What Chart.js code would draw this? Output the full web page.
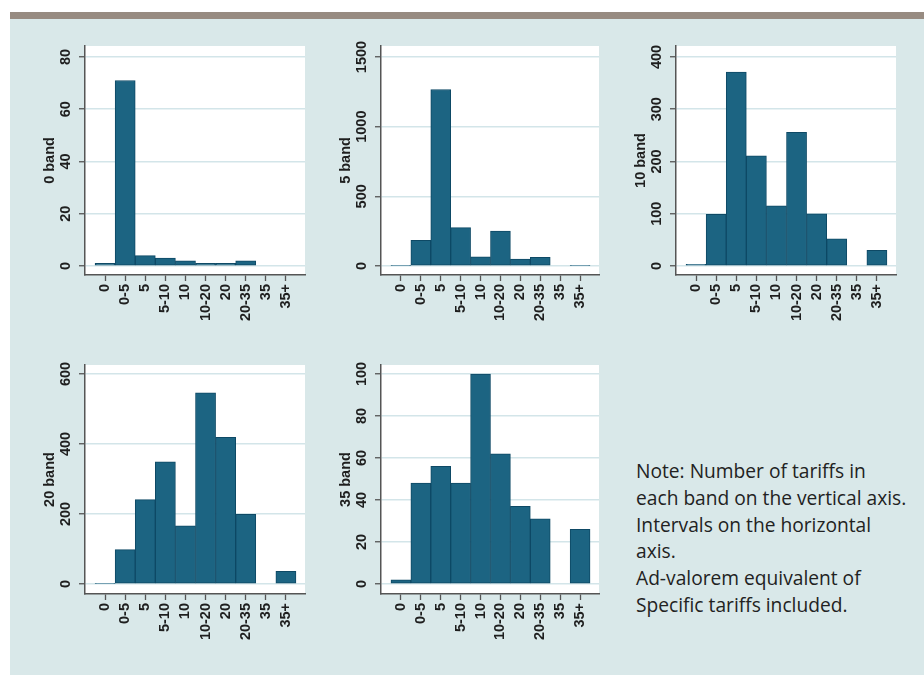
<!DOCTYPE html>
<html>
<head>
<meta charset="utf-8">
<script src="https://cdn.jsdelivr.net/npm/chart.js@4.4.1/dist/chart.umd.min.js"></script>
<style>
  body { margin: 0; width: 924px; height: 675px; background: #fff; position: relative; overflow: hidden; }
  #bg { position: absolute; left: 10px; top: 19px; right: 0; bottom: 0; background: #d9e8e9; }
  #topbar { position: absolute; left: 10px; top: 12px; right: 0; height: 7px; background: #978b81; }
  canvas { position: absolute; }
  #note { position: absolute; left: 636px; top: 458px; font-family: 'Open Sans', sans-serif; font-size: 19.2px; line-height: 26.8px; color: #222; }
</style>
</head>
<body>
<div id="bg"></div>
<div id="topbar"></div>
<canvas id="c0"></canvas>
<canvas id="c5"></canvas>
<canvas id="c10"></canvas>
<canvas id="c20"></canvas>
<canvas id="c35"></canvas>
<div id="note">Note: Number of tariffs in<br>each band on the vertical axis.<br>Intervals on the horizontal<br>axis.<br>Ad-valorem equivalent of<br>Specific tariffs included.</div>

<script>
// intervalos del eje horizontal
const bandLabels = ['0', '0-5', '5', '5-10', '10', '10-20', '20', '20-35', '35', '35+'];

// numero de aranceles por intervalo, una serie por banda
const band0 = [1, 71, 4, 3, 2, 1, 1, 2, 0, 0];
const band5 = [5, 185, 1267, 275, 65, 251, 50, 63, 0, 5];
const band10 = [3, 99, 371, 211, 115, 256, 100, 52, 0, 30];
const band20 = [2, 98, 241, 349, 166, 546, 419, 199, 0, 36];
const band35 = [2, 48, 56, 48, 100, 62, 37, 31, 0, 26];

// marcas del eje vertical
const ticks0 = [0, 20, 40, 60, 80];
const ticks5 = [0, 500, 1000, 1500];
const ticks10 = [0, 100, 200, 300, 400];
const ticks20 = [0, 200, 400, 600];
const ticks35 = [0, 20, 40, 60, 80, 100];

const FONT = "'Liberation Sans', Arial, sans-serif";
const TEXT = '#1e1e1e';
const AXIS = '#555';

// fondo blanco del area de trazado y etiquetas verticales del eje Y (estilo Stata)
const plotDeco = {
    id: 'plotDeco',
    beforeDraw(chart) {
        const { ctx, chartArea: a } = chart;
        ctx.save();
        ctx.fillStyle = '#fff';
        ctx.fillRect(a.left, a.top, a.right - a.left, a.bottom - a.top);
        ctx.restore();
    },
    afterDraw(chart) {
        const { ctx } = chart;
        const y = chart.scales.y;
        ctx.save();
        ctx.font = 'bold 14.5px ' + FONT;
        ctx.fillStyle = TEXT;
        ctx.textAlign = 'center';
        ctx.textBaseline = 'middle';
        y.ticks.forEach(t => {
            ctx.save();
            ctx.translate(y.right - 19, y.getPixelForValue(t.value));
            ctx.rotate(-Math.PI / 2);
            ctx.fillText(String(t.value), 0, 0);
            ctx.restore();
        });
        ctx.restore();
    }
};

function crearHistograma(id, title, values, yTicks, left, top, plotW, plotH) {
    const canvas = document.getElementById(id);
    const padTop = 10, padRight = 5, padBottom = 5, yAxisW = 75, xAxisH = 55;
    canvas.width = yAxisW + plotW + padRight;
    canvas.height = padTop + plotH + xAxisH + padBottom;
    canvas.style.left = (left - yAxisW) + 'px';
    canvas.style.top = (top - padTop) + 'px';

    const topTick = yTicks[yTicks.length - 1];
    const lowFrac = top < 300 ? 9 / 209 : 10 / 210;
    const highFrac = top < 300 ? 11 / 209 : 9 / 210;

    return new Chart(canvas.getContext('2d'), {
        type: 'bar',
        data: {
            datasets: [{
                data: values.map((v, i) => ({ x: i, y: v })),
                backgroundColor: '#1c6482',
                borderColor: '#0e4965',
                borderWidth: 1,
                borderSkipped: false,
                barPercentage: 1,
                categoryPercentage: 1
            }]
        },
        options: {
            responsive: false,
            animation: false,
            events: [],
            layout: { padding: { left: 0, right: padRight, top: padTop, bottom: padBottom } },
            plugins: { legend: { display: false }, tooltip: { enabled: false } },
            scales: {
                x: {
                    type: 'linear',
                    offset: false,
                    min: -1,
                    max: 9.95,
                    afterBuildTicks: s => { s.ticks = bandLabels.map((_, i) => ({ value: i })); },
                    afterFit: s => { s.height = xAxisH; s.paddingLeft = 0; s.paddingRight = 0; },
                    grid: { offset: false, drawOnChartArea: false, tickLength: 6, tickColor: AXIS, tickWidth: 1.3 },
                    border: { color: AXIS, width: 1.5 },
                    ticks: {
                        autoSkip: false,
                        minRotation: 90,
                        maxRotation: 90,
                        padding: 3,
                        color: TEXT,
                        font: { family: FONT, size: 14.5, weight: 'bold' },
                        callback: v => bandLabels[v]
                    }
                },
                y: {
                    min: -lowFrac * topTick,
                    max: topTick * (1 + highFrac),
                    afterBuildTicks: s => { s.ticks = yTicks.map(v => ({ value: v })); },
                    afterFit: s => { s.width = yAxisW; s.paddingTop = 0; s.paddingBottom = 0; },
                    grid: { color: '#d3e5e9', lineWidth: 1.5, tickLength: 6, tickColor: AXIS, tickWidth: 1.3 },
                    border: { color: AXIS, width: 1.5 },
                    ticks: { display: false },
                    title: {
                        display: true,
                        text: title,
                        color: TEXT,
                        font: { family: FONT, size: 14.5, weight: 'bold' },
                        padding: { top: 31.3, bottom: 0 }
                    }
                }
            }
        },
        plugins: [plotDeco]
    });
}

crearHistograma('c0', '0 band', band0, ticks0, 85, 46, 220, 229);
crearHistograma('c5', '5 band', band5, ticks5, 381, 46, 218, 229);
crearHistograma('c10', '10 band', band10, ticks10, 676, 46, 220, 229);
crearHistograma('c20', '20 band', band20, ticks20, 85, 365, 220, 229);
crearHistograma('c35', '35 band', band35, ticks35, 381, 365, 218, 229);
</script>
</body>
</html>
